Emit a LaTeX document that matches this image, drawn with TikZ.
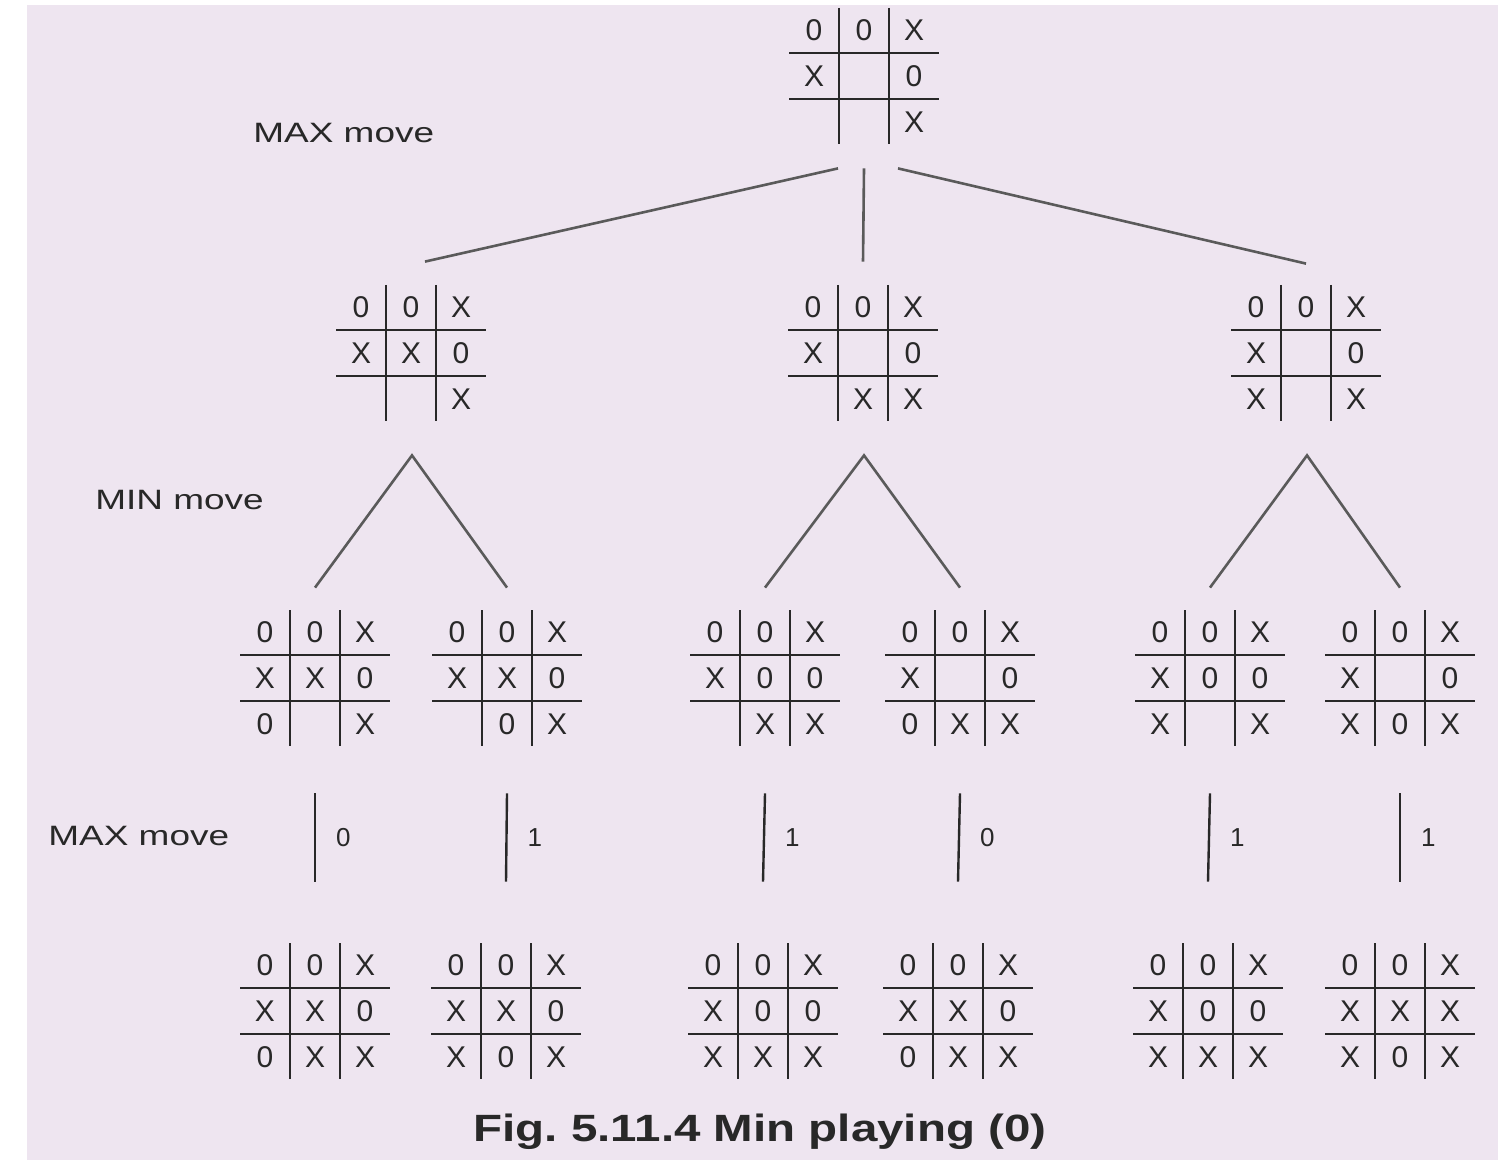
\documentclass[tikz,border=0pt]{standalone}
\usepackage{fontspec}
\setmainfont{Liberation Sans}
\newfontfamily\widesans[FakeStretch=1.32]{Liberation Sans}
\newfontfamily\widecap[FakeStretch=1.25]{Liberation Sans}
\usetikzlibrary{calc}
\definecolor{bgpaper}{RGB}{238,229,240}
\definecolor{ink}{RGB}{40,40,40}
\definecolor{linkgray}{RGB}{90,90,90}
\tikzset{
 boardnode/.style={inner sep=0pt, minimum width=75pt, minimum height=69pt},
 gridline/.style={ink, line width=1.4pt},
 cellmark/.style={ink, font=\fontsize{15}{15}\selectfont, inner sep=0pt},
 link/.style={linkgray, line width=1.3pt},
 movelabel/.style={ink, font=\widesans\fontsize{14}{14}\selectfont, anchor=west, inner sep=0pt},
 valuelabel/.style={ink, font=\fontsize{13}{13}\selectfont, anchor=west, inner sep=0pt},
 captionlabel/.style={ink, font=\widecap\bfseries\fontsize{19}{19}\selectfont, inner sep=0pt},
}
\newcommand\tttboard[4]{%
 \node[boardnode] (#1) at (#2,#3) {};
 \begin{scope}[shift={(#1.center)}]
  \draw[gridline] (-75,-23) -- (75,-23) (-75,23) -- (75,23)
                  (-25,-68) -- (-25,68) (25,-68) -- (25,68);
  \foreach \mk [count=\i from 0] in {#4}{
   \pgfmathtruncatemacro\cc{mod(\i,3)-1}
   \pgfmathtruncatemacro\rr{div(\i,3)-1}
   \node[cellmark] at (\cc*50,\rr*46) {\mk};
  }
 \end{scope}}
\begin{document}
\begin{tikzpicture}[x=0.5pt,y=-0.5pt]
\fill[white] (0,0) rectangle (1498,1160);
\fill[bgpaper] (27,5) rectangle (1498,1160);
\useasboundingbox (0,0) rectangle (1498,1160);

% boards
\tttboard{top}{864}{76}{0,0,X,X,{},0,{},{},X}
\tttboard{la}{411}{353}{0,0,X,X,X,0,{},{},X}
\tttboard{lb}{863}{353}{0,0,X,X,{},0,{},X,X}
\tttboard{lc}{1306}{353}{0,0,X,X,{},0,X,{},X}

\tttboard{ma}{315}{678}{0,0,X,X,X,0,0,{},X}
\tttboard{mb}{507}{678}{0,0,X,X,X,0,{},0,X}
\tttboard{mc}{765}{678}{0,0,X,X,0,0,{},X,X}
\tttboard{md}{960}{678}{0,0,X,X,{},0,0,X,X}
\tttboard{me}{1210}{678}{0,0,X,X,0,0,X,{},X}
\tttboard{mf}{1400}{678}{0,0,X,X,{},0,X,0,X}

\tttboard{fa}{315}{1011}{0,0,X,X,X,0,0,X,X}
\tttboard{fb}{506}{1011}{0,0,X,X,X,0,X,0,X}
\tttboard{fc}{763}{1011}{0,0,X,X,0,0,X,X,X}
\tttboard{fd}{958}{1011}{0,0,X,X,X,0,0,X,X}
\tttboard{fe}{1208}{1011}{0,0,X,X,0,0,X,X,X}
\tttboard{ff}{1400}{1011}{0,0,X,X,X,X,X,0,X}

% top level connectors
\draw[link] ($(top.south)+(-26,23)$) -- ($(la.north)+(14,-22)$);
\draw[link] ($(top.south)+(0,23)$) -- ($(lb.north)+(0,-22)$);
\draw[link] ($(top.south)+(34,23)$) -- ($(lc.north)+(0,-20)$);

% MIN level connectors
\foreach \p/\l/\r in {la/ma/mb, lb/mc/md, lc/me/mf}{
  \draw[link] ($(\l.north)+(0,-21)$) -- ($(\p.south)+(1,33)$) -- ($(\r.north)+(0,-21)$);
}

% MAX level connectors with values
\foreach \u/\d/\v in {ma/fa/0, mb/fb/1, mc/fc/1, md/fd/0, me/fe/1, mf/ff/1}{
  \draw[ink, line width=1.2pt] ($(\u.south)+(0,46)$) -- ($(\d.north)+(0,-60)$)
     node[valuelabel, pos=0.5, xshift=10pt] {\v};
}

% level labels
\node[movelabel] (lab1) at (253,133) {MAX move};
\node[movelabel] (lab2) at (95,500) {MIN move};
\node[movelabel] (lab3) at (48,836) {MAX move};

% caption
\node[captionlabel] (cap) at (760,1132) {Fig.\ 5.11.4 Min playing (0)};
\end{tikzpicture}
\end{document}
